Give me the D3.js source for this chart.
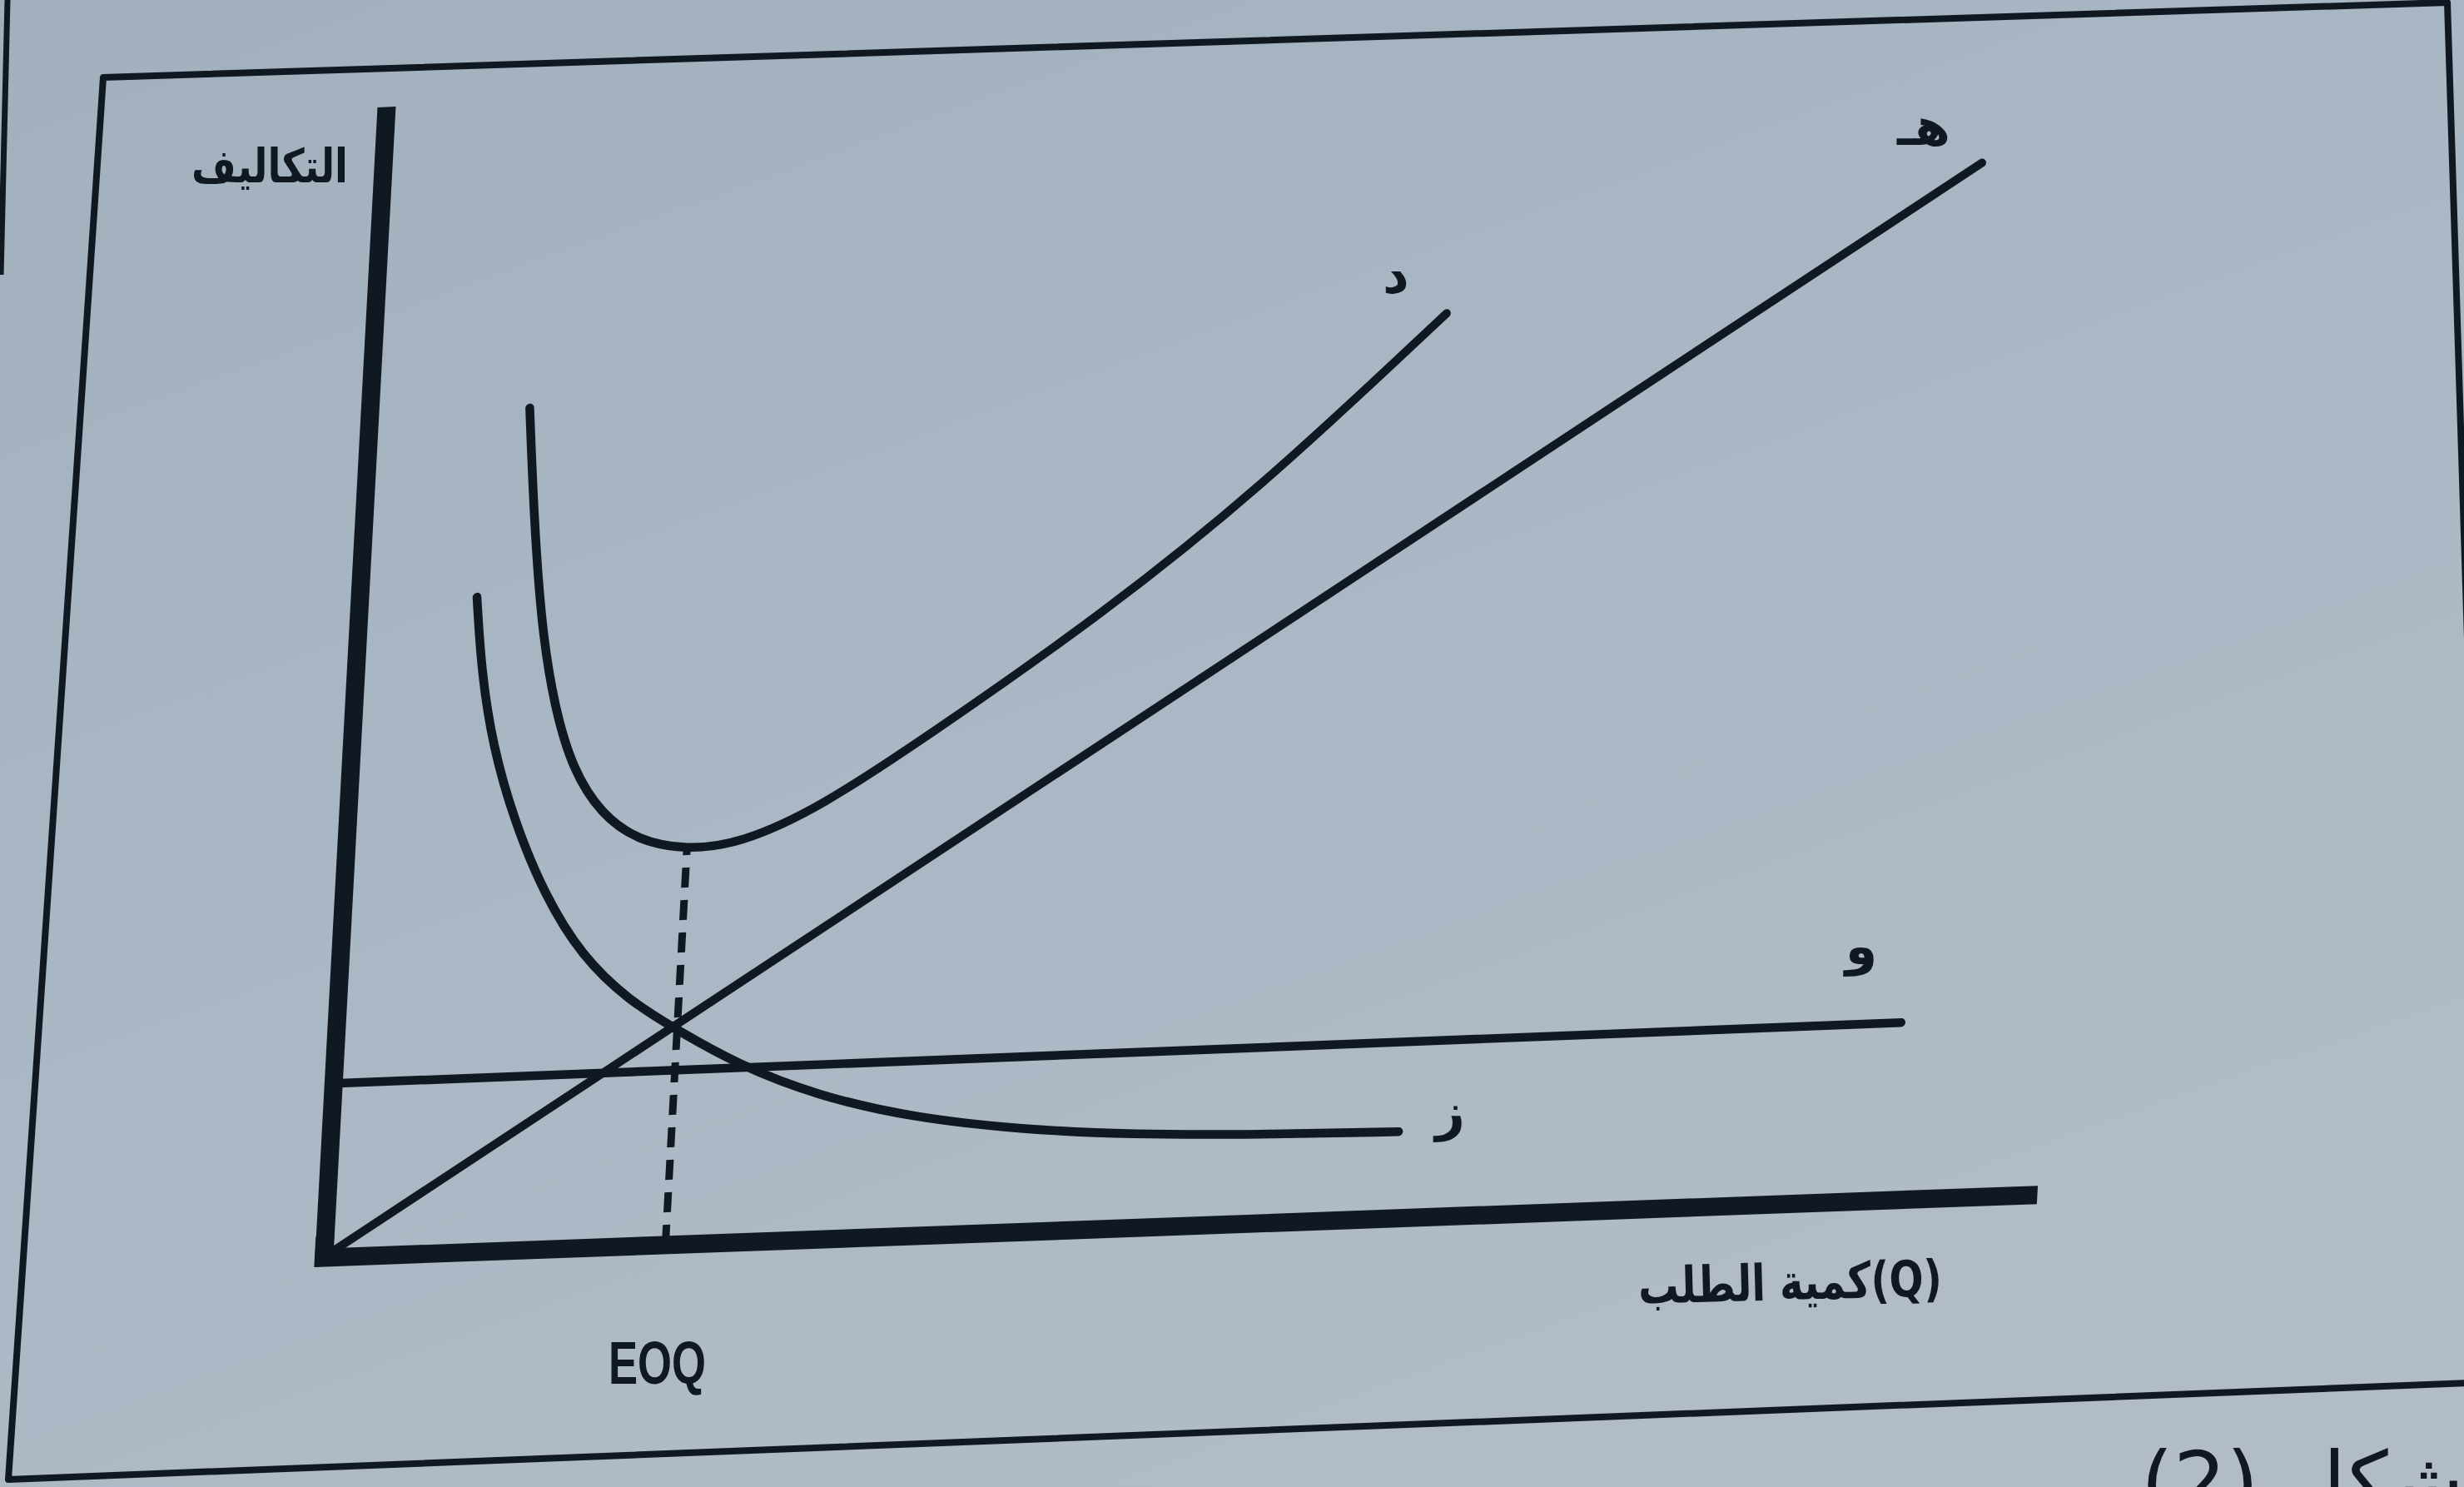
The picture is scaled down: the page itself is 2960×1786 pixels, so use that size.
<!DOCTYPE html>
<html><head><meta charset="utf-8">
<script src="https://cdn.jsdelivr.net/npm/d3@7"></script>
<style>html,body{margin:0;padding:0;background:#aab7c3;overflow:hidden}svg{display:block}</style>
</head><body><svg id="c" width="2960" height="1786"></svg>
<script>
// ---------- data (arbitrary cost/quantity units) ----------
const qDomain = [0, 100];
const cDomain = [0, 100];
const holdingQ = [0, 94];              // هـ  holding cost (straight line)
const holdingC = [0, 90];
const fixedQ = [0.4, 92];              // و   constant line
const fixedC = [15.1, 15.4];
const orderingQ = [6.9, 7.4, 8.3, 9.8, 11.8, 14.2, 17.1, 20.0, 23.8, 28.5, 34.1, 40.6, 47.1, 54.5, 62.8]; // ز
const orderingC = [57.0, 50.5, 44.0, 37.4, 30.9, 25.4, 21.4, 18.7, 15.4, 12.5, 10.3, 8.9, 8.1, 7.7, 7.5];
const totalQ = [9.4, 10.0, 10.8, 11.8, 13.1, 14.9, 17.1, 20.05, 23.1, 27.6, 34.7, 43.6, 52.5, 63.0]; // د
const totalC = [73.3, 63.7, 54.1, 47.2, 41.6, 37.7, 35.3, 34.3, 34.7, 37.4, 44.3, 53.4, 63.8, 78.6];
const eoqQ = 20.05;
const eoqC = 34.3;
const curveLabels = ["د", "هـ", "و", "ز"];
const yTitle = "التكاليف";
const xTitle = "كمية الطلب(Q)";
const eoqLabel = "EOQ";
const caption = "شكل (2).";

// ---------- layout ----------
const W = 2960, H = 1786;
const ink = "#101821";
const plotW = 2047, plotH = 1382;
const M = {a: 1, b: -0.0366, c: -0.0543, d: 1, e: 464, f: 128}; // photo skew
const xScale = d3.scaleLinear().domain(qDomain).range([0, plotW]);
const yScale = d3.scaleLinear().domain(cDomain).range([plotH, 0]);
const project = (q, c) => {
  const x = xScale(q), y = yScale(c);
  return [M.a * x + M.c * y + M.e, M.b * x + M.d * y + M.f];
};

const svg = d3.select("#c");
const defs = svg.append("defs");
const grad = defs.append("linearGradient").attr("id", "bg")
  .attr("x1", "0").attr("y1", "0").attr("x2", "0.6").attr("y2", "1");
grad.append("stop").attr("offset", "0%").attr("stop-color", "#a2b0be");
grad.append("stop").attr("offset", "55%").attr("stop-color", "#aab7c4");
grad.append("stop").attr("offset", "100%").attr("stop-color", "#b1bcc7");
svg.append("rect").attr("width", W).attr("height", H).attr("fill", "url(#bg)");

// page edge and figure frame
svg.append("path").attr("d", "M9,0 L1,330").attr("fill", "none")
  .attr("stroke", ink).attr("stroke-width", 7);
svg.append("path").attr("d", "M124,93 L2940,3 L2992,1660 L10,1777 Z")
  .attr("fill", "none").attr("stroke", ink).attr("stroke-width", 8)
  .attr("stroke-linejoin", "round");

// plot group (skewed like the photo)
const g = svg.append("g")
  .attr("transform", `matrix(${M.a},${M.b},${M.c},${M.d},${M.e},${M.f})`);

const line = d3.line().x(d => xScale(d[0])).y(d => yScale(d[1]));
const smooth = d3.line().x(d => xScale(d[0])).y(d => yScale(d[1]))
  .curve(d3.curveBasis);

// axes
const xAxis = d3.axisBottom(xScale).tickValues([]).tickSizeOuter(0);
const yAxis = d3.axisLeft(yScale).tickValues([]).tickSizeOuter(0);
const gx = g.append("g").attr("transform", `translate(0,${yScale(0)})`).call(xAxis);
const gy = g.append("g").call(yAxis);
gx.select(".domain").attr("stroke", ink).attr("stroke-width", 22).attr("stroke-linecap", "square");
gy.select(".domain").attr("stroke", ink).attr("stroke-width", 22).attr("stroke-linecap", "butt");
// corner fill so both axes meet squarely
g.append("path").attr("d", line([[0, 0], [0, 1]])).attr("stroke", ink)
  .attr("stroke-width", 22).attr("stroke-linecap", "square");

// curves
const zip = (a, b) => a.map((v, i) => [v, b[i]]);
const drawn = [
  {pts: zip(holdingQ, holdingC), gen: line},
  {pts: zip(fixedQ, fixedC), gen: line},
  {pts: zip(orderingQ, orderingC), gen: smooth},
  {pts: zip(totalQ, totalC), gen: smooth}
];
g.selectAll("path.curve").data(drawn).join("path").attr("class", "curve")
  .attr("d", d => d.gen(d.pts)).attr("fill", "none").attr("stroke", ink)
  .attr("stroke-width", 10.5).attr("stroke-linecap", "round").attr("stroke-linejoin", "round");

// EOQ dashed drop line
g.append("path").attr("d", line([[eoqQ, 0], [eoqQ, eoqC]]))
  .attr("fill", "none").attr("stroke", ink).attr("stroke-width", 9)
  .attr("stroke-dasharray", "24,15");

// ---------- text ----------
const arabicFont = "'DejaVu Sans', 'Noto Sans', sans-serif";
svg.append("text").text(yTitle).attr("x", 418).attr("y", 219)
  .attr("text-anchor", "end").attr("font-family", arabicFont).attr("font-weight", "bold")
  .attr("font-size", 56).attr("fill", ink)
  .attr("textLength", 188).attr("lengthAdjust", "spacingAndGlyphs");

svg.append("text").text(xTitle).attr("x", 2333).attr("y", 1561)
  .attr("text-anchor", "end").attr("font-family", arabicFont).attr("font-weight", "bold")
  .attr("font-size", 60).attr("fill", ink)
  .attr("textLength", 365).attr("lengthAdjust", "spacingAndGlyphs")
  .attr("transform", "rotate(-1.5,2150,1545)");

const [ex] = project(eoqQ, 0);
svg.append("text").text(eoqLabel).attr("x", ex - 10).attr("y", 1662)
  .attr("text-anchor", "middle").attr("font-family", "'Liberation Sans Narrow','Liberation Sans', Arial, sans-serif")
  .attr("font-weight", "bold").attr("font-size", 72).attr("fill", ink)
  .attr("textLength", 117).attr("lengthAdjust", "spacingAndGlyphs");

// curve letters, placed next to the end of each curve
const labelPos = [
  {t: curveLabels[0], x: 1677, y: 352},
  {t: curveLabels[1], x: 2311, y: 174},
  {t: curveLabels[2], x: 2236, y: 1158},
  {t: curveLabels[3], x: 1742, y: 1357}
];
svg.selectAll("text.lbl").data(labelPos).join("text").attr("class", "lbl")
  .text(d => d.t).attr("x", d => d.x).attr("y", d => d.y)
  .attr("text-anchor", "middle").attr("font-family", arabicFont)
  .attr("font-weight", "bold").attr("font-size", 62).attr("fill", ink);

// caption, cut by the photo edge as in the photo
svg.append("text").text(caption).attr("x", 2540).attr("y", 1815)
  .attr("direction", "rtl").attr("text-anchor", "end")
  .attr("font-family", arabicFont).attr("font-size", 100).attr("fill", ink);
</script></body></html>
